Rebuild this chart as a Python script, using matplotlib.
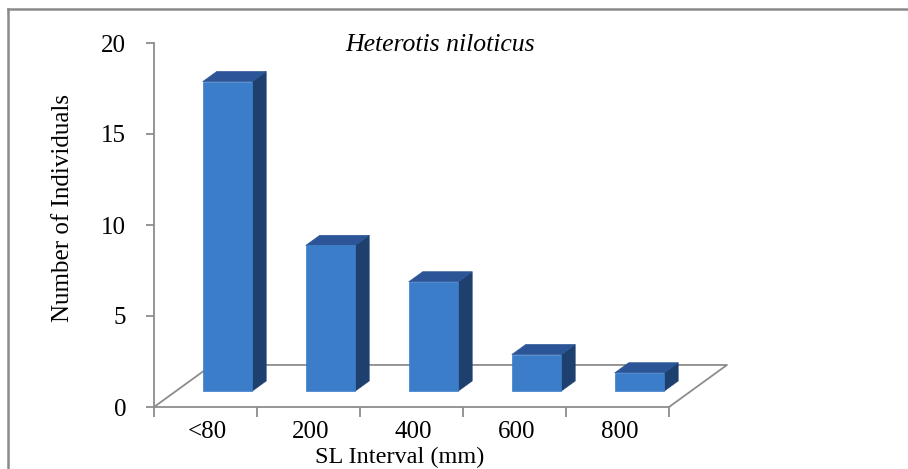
"""Length-class histogram for Heterotis niloticus, drawn as Excel-style 3D bars."""
import numpy as np
import matplotlib.pyplot as plt
from matplotlib.patches import Polygon

CATEGORIES = ["<80", "200", "400", "600", "800"]
COUNTS = [17, 8, 6, 2, 1]
Y_TICKS = [0, 5, 10, 15, 20]

TITLE = "Heterotis niloticus"
X_LABEL = "SL Interval (mm)"
Y_LABEL = "Number of Individuals"

FRONT = "#3c7dca"
SIDE = "#1e406f"
TOP = "#2b5597"
GRID_GRAY = "#8c8c8c"

# oblique depth of the floor, in data units (category, count)
DEPTH_X = 0.563
DEPTH_Y = 2.31
BAR_FRONT, BAR_BACK = 0.38, 0.62   # bar position inside the floor depth
BAR_W = 0.48

W, H = 908, 469


def draw_bar(ax, i, v):
    x0 = i + (1 - BAR_W) / 2 + BAR_FRONT * DEPTH_X
    yb = BAR_FRONT * DEPTH_Y
    ddx = (BAR_BACK - BAR_FRONT) * DEPTH_X
    ddy = (BAR_BACK - BAR_FRONT) * DEPTH_Y
    x1 = x0 + BAR_W
    yt = yb + v
    side = [(x1, yb), (x1 + ddx, yb + ddy), (x1 + ddx, yt + ddy), (x1, yt)]
    top = [(x0, yt), (x1, yt), (x1 + ddx, yt + ddy), (x0 + ddx, yt + ddy)]
    front = [(x0, yb), (x1, yb), (x1, yt), (x0, yt)]
    for pts, c in [(side, SIDE), (top, TOP), (front, FRONT)]:
        ax.add_patch(Polygon(pts, closed=True, facecolor=c, edgecolor=c,
                             lw=0.5, clip_on=False, zorder=3))


def main():
    plt.rcParams["font.family"] = ["Liberation Serif", "DejaVu Serif"]
    fig = plt.figure(figsize=(W / 100, H / 100), dpi=100)

    n = len(CATEGORIES)
    # pixel layout: x=0 at 154px, 103px per category; y=0 at 407px, 18.2px per unit
    left, bottom = 154 / W, 1 - 407 / H
    xmax = 5.6
    ax = fig.add_axes([left, bottom, xmax * 103 / W, 364 / H])
    ax.set_xlim(0, xmax)
    ax.set_ylim(0, 20)

    for s in ("top", "right"):
        ax.spines[s].set_visible(False)
    ax.spines["left"].set_color(GRID_GRAY)
    ax.spines["left"].set_linewidth(1.3)
    ax.spines["bottom"].set_color(GRID_GRAY)
    ax.spines["bottom"].set_linewidth(1.3)
    ax.spines["bottom"].set_bounds(0, n)

    # floor outline
    fx = [0, DEPTH_X, n + DEPTH_X, n]
    fy = [0, DEPTH_Y, DEPTH_Y, 0]
    ax.plot(fx, fy, color=GRID_GRAY, lw=1.3, clip_on=False, zorder=1)

    for i, v in enumerate(COUNTS):
        draw_bar(ax, i, v)

    ax.set_yticks(Y_TICKS)
    ax.set_yticklabels([str(t) for t in Y_TICKS])
    ax.tick_params(axis="y", direction="out", length=6, width=1.3,
                   color=GRID_GRAY, pad=14, labelsize=18)

    ax.set_xticks(np.arange(n) + 0.52)
    ax.set_xticklabels(CATEGORIES)
    ax.set_xticks(np.arange(n + 1), minor=True)
    ax.tick_params(axis="x", which="major", length=0, pad=10, labelsize=18)
    ax.tick_params(axis="x", which="minor", direction="out", length=7,
                   width=1.3, color=GRID_GRAY)

    fig.text(440 / W, 1 - 45 / H, TITLE, ha="center", va="center",
             fontsize=18.5, style="italic")
    fig.text(400 / W, 1 - 457 / H, X_LABEL, ha="center", va="center",
             fontsize=17.5)
    fig.text(63 / W, 1 - 208 / H, Y_LABEL, ha="center", va="center",
             fontsize=18, rotation=90)

    # chart frame (top and left edges visible)
    fig.add_artist(plt.Line2D([8 / W, 1], [1 - 9 / H, 1 - 9 / H],
                              color="#8a8a8a", lw=1.8))
    fig.add_artist(plt.Line2D([8 / W, 8 / W], [1 - 9 / H, 0],
                              color="#8a8a8a", lw=1.8))

    fig.savefig("out.png", dpi=100)
    plt.close(fig)


if __name__ == "__main__":
    main()
